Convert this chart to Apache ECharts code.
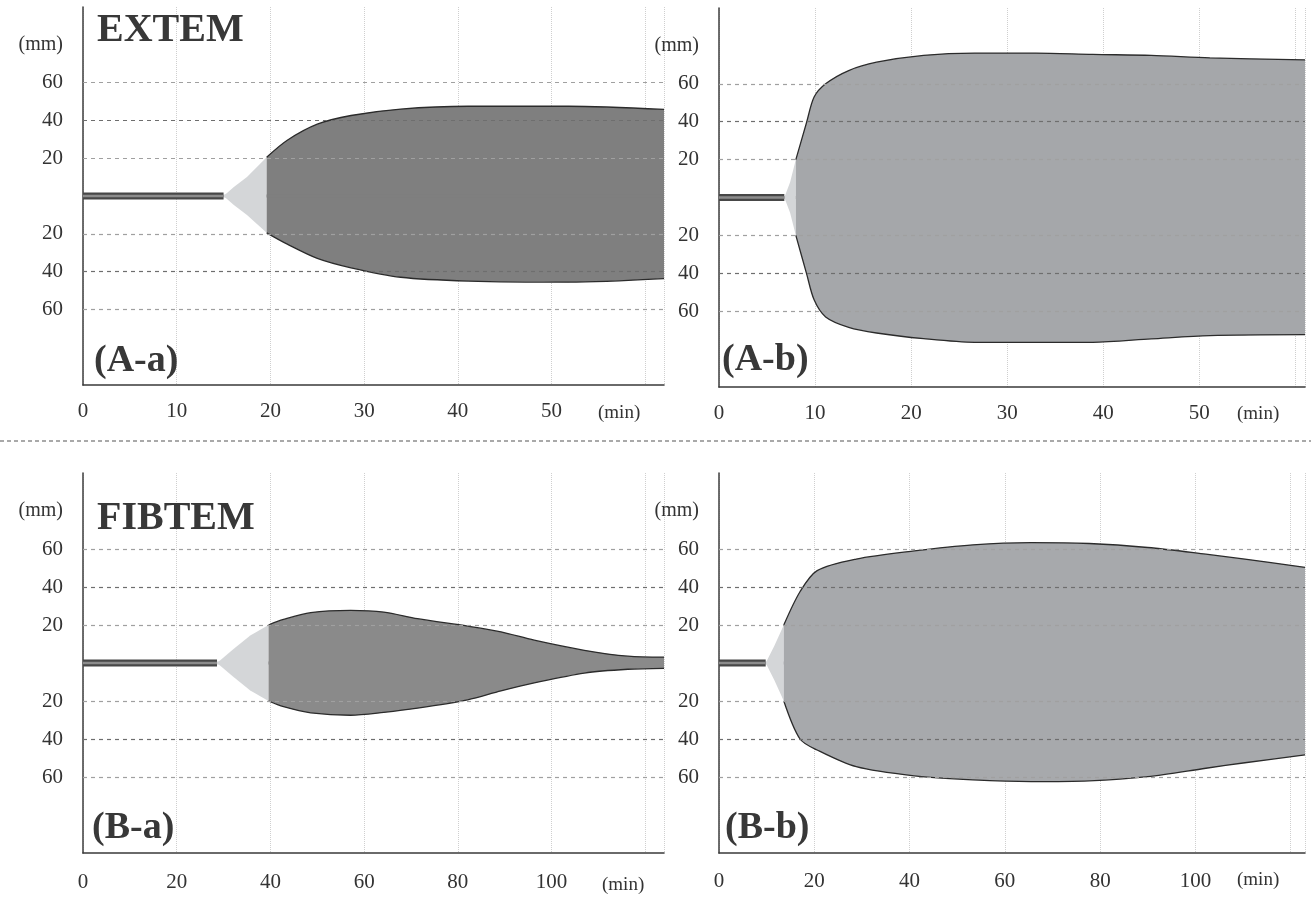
<!DOCTYPE html>
<html><head><meta charset="utf-8">
<script src="https://cdn.jsdelivr.net/npm/echarts/dist/echarts.min.js"></script>
<style>html,body{margin:0;padding:0;background:#fff}#c{width:1311px;height:898px}</style>
</head><body><div id="c"></div>
<script>
// ---- data (time in min, amplitude in mm) ----
const aaTime  = [15.0, 16.1, 17.5, 19.6, 21.8, 25.0, 28.6, 33.9, 41.1, 51.8, 62.0];
const aaUpper = [0, 4.7, 10, 20.5, 29.5, 38, 42.6, 46, 47.5, 47.5, 45.8];
const aaLower = [0, 4.7, 10, 19.5, 25.5, 33, 38, 43, 45, 45.6, 43.7];

const abTime  = [6.8, 7.4, 8.0, 9.1, 9.9, 11.1, 13.5, 16.4, 21.3, 26.6, 33.0, 38.9, 45.0, 51.1, 61.0];
const abUpper = [0, 8, 20, 39.3, 53, 60, 67, 71.4, 75, 76.2, 76.2, 75.5, 75, 73.7, 72.6];
const abLower = [0, 8, 20, 39.9, 54, 63, 68.5, 71.5, 74.5, 76.4, 76.4, 76.4, 74.6, 72.9, 72.4];

const baTime  = [28.6, 32.2, 35.7, 39.6, 42.8, 48.6, 57.1, 64.2, 71.4, 82.1, 89.2, 96.3, 107.0, 116.3, 124.0];
const baUpper = [0, 7.5, 14.5, 20, 22.9, 26.5, 27.7, 26.8, 23.3, 19.4, 16.4, 12, 6.7, 3.6, 3.1];
const baLower = [0, 7.5, 14.5, 20, 23, 26.2, 27.5, 26, 23.8, 19.4, 14.7, 10.5, 5.3, 3.3, 2.8];

const bbTime  = [9.8, 11.6, 13.6, 17.0, 20.6, 28.8, 41.0, 53.3, 65.5, 77.7, 90.0, 102.2, 110.4, 123.0];
const bbUpper = [0, 9, 20, 37.5, 48.6, 54.7, 59, 62.2, 63.4, 62.9, 60.8, 57.3, 54.7, 50.3];
const bbLower = [0, 9, 20, 40, 45.8, 54.6, 59.4, 61.5, 62.4, 62, 59.8, 55.4, 52.5, 48.4];

const titles = ['EXTEM', 'FIBTEM'];
const panelLabels = ['(A-a)', '(A-b)', '(B-a)', '(B-b)'];
const gridYValues = [20, 40, 60];

// ---- layout ----
const panels = [
  {time: aaTime, upper: aaUpper, lower: aaLower, xMax: 62, xInt: 10, labelMax: 50,
   fill: '#7f7f7f', grid: {left: 83, top: 7, width: 581, height: 378}, nameGap: -66, nameTop: 19, lm: 16},
  {time: abTime, upper: abUpper, lower: abLower, xMax: 61, xInt: 10, labelMax: 50,
   fill: '#a5a7aa', grid: {left: 719, top: 8, width: 586, height: 379}, nameGap: -68, nameTop: 18, lm: 16},
  {time: baTime, upper: baUpper, lower: baLower, xMax: 124, xInt: 20, labelMax: 100,
   fill: '#8a8a8a', grid: {left: 83, top: 473, width: 581, height: 380}, nameGap: -62, nameTop: 23, lm: 19},
  {time: bbTime, upper: bbUpper, lower: bbLower, xMax: 123, xInt: 20, labelMax: 100,
   fill: '#a7a9ac', grid: {left: 719, top: 473, width: 586, height: 380}, nameGap: -68, nameTop: 18, lm: 18}
];

const FONT = '"Liberation Serif", "Times New Roman", serif';
const LIGHT = '#d4d6d8';
const grids = [], xAxes = [], yAxes = [], series = [];

panels.forEach((p, i) => {
  grids.push(Object.assign({containLabel: false}, p.grid));
  xAxes.push({
    type: 'value', gridIndex: i, min: 0, max: p.xMax, interval: p.xInt,
    name: '(min)', nameLocation: 'end', nameGap: p.nameGap,
    nameTextStyle: {fontFamily: FONT, fontSize: 19, color: '#333', verticalAlign: 'top', padding: [p.nameTop, 0, 0, 0]},
    axisLine: {show: true, onZero: false, lineStyle: {color: '#3a3a3a', width: 1.6}},
    axisTick: {show: false},
    axisLabel: {fontFamily: FONT, fontSize: 21, color: '#333', margin: p.lm, showMaxLabel: false,
      formatter: v => (v % p.xInt === 0 && v <= p.labelMax) ? String(v) : ''},
    splitLine: {show: true, lineStyle: {color: '#cfcfcf', type: 'dotted', width: 1}}
  });
  yAxes.push({
    type: 'value', gridIndex: i, min: -100, max: 100, interval: 20,
    axisLine: {show: true, onZero: false, lineStyle: {color: '#4a4a4a', width: 1.6}},
    axisTick: {show: false},
    axisLabel: {fontFamily: FONT, fontSize: 21, color: '#333', margin: 20,
      formatter: v => v === 80 ? '{u|(mm)}' : (gridYValues.indexOf(Math.abs(v)) >= 0 ? String(Math.abs(v)) : ''),
      rich: {u: {fontFamily: FONT, fontSize: 20, color: '#333'}}},
    splitLine: {show: false}
  });

  // horizontal dashed grid lines
  series.push({
    type: 'line', xAxisIndex: i, yAxisIndex: i, data: [], z: 1, silent: true,
    markLine: {
      silent: true, symbol: 'none', label: {show: false}, animation: false,
      data: gridYValues.concat(gridYValues.map(v => -v)).map(v => ({
        yAxis: v,
        lineStyle: {type: [4, 4], width: 1.2, color: Math.abs(v) === 40 ? '#6e6e6e' : '#a0a0a0'}
      }))
    }
  });

  const k = p.upper.findIndex(v => v >= 20);
  const up = p.time.map((t, j) => [t, p.upper[j]]);
  const lo = p.time.map((t, j) => [t, -p.lower[j]]);
  const ct = p.time[0];
  const tk = p.time[k];
  const tEnd = p.time[p.time.length - 1];

  // light (clot formation) region
  [up.slice(0, k + 1), lo.slice(0, k + 1)].forEach(d => series.push({
    type: 'line', xAxisIndex: i, yAxisIndex: i, data: d, symbol: 'none', z: 3, silent: true,
    lineStyle: {width: 0, opacity: 0}, areaStyle: {color: LIGHT, opacity: 1}
  }));
  // seam cover for light region
  series.push({
    type: 'line', xAxisIndex: i, yAxisIndex: i, data: [[ct, 0], [tk, 0]], symbol: 'none', z: 3, silent: true,
    lineStyle: {width: 3, color: LIGHT, cap: 'butt'}
  });
  // firm clot region
  [up.slice(k), lo.slice(k)].forEach(d => series.push({
    type: 'line', xAxisIndex: i, yAxisIndex: i, data: d, symbol: 'none', z: 4, silent: true,
    smooth: 0.3,
    lineStyle: {width: 1.3, color: '#2b2b2b'}, areaStyle: {color: p.fill, opacity: 1}
  }));
  // seam cover for firm clot region
  series.push({
    type: 'line', xAxisIndex: i, yAxisIndex: i, data: [[tk, 0], [tEnd, 0]], symbol: 'none', z: 4, silent: true,
    lineStyle: {width: 3, color: p.fill, cap: 'butt'}
  });
  // baseline before clotting time
  series.push({
    type: 'line', xAxisIndex: i, yAxisIndex: i, data: [[0, 0], [ct, 0]], symbol: 'none', z: 5, silent: true,
    lineStyle: {width: 7, color: '#474747', cap: 'butt'}
  });
  series.push({
    type: 'line', xAxisIndex: i, yAxisIndex: i, data: [[0, 0], [ct, 0]], symbol: 'none', z: 6, silent: true,
    lineStyle: {width: 2.5, color: '#8c8c8c', cap: 'butt'}
  });
});

const titleFont = 'bold 40px ' + FONT;
const labelFont = 'bold 38px ' + FONT;
const graphic = [
  {type: 'text', x: 97, y: 31, z: 100, style: {text: titles[0], font: titleFont, fill: '#383838', verticalAlign: 'middle'}},
  {type: 'text', x: 97, y: 519, z: 100, style: {text: titles[1], font: titleFont, fill: '#383838', verticalAlign: 'middle'}},
  {type: 'text', x: 94, y: 361, z: 100, style: {text: panelLabels[0], font: labelFont, fill: '#383838', verticalAlign: 'middle'}},
  {type: 'text', x: 722, y: 360, z: 100, style: {text: panelLabels[1], font: labelFont, fill: '#383838', verticalAlign: 'middle'}},
  {type: 'text', x: 92, y: 828, z: 100, style: {text: panelLabels[2], font: labelFont, fill: '#383838', verticalAlign: 'middle'}},
  {type: 'text', x: 725, y: 828, z: 100, style: {text: panelLabels[3], font: labelFont, fill: '#383838', verticalAlign: 'middle'}},
  {type: 'line', z: 100, shape: {x1: 0, y1: 441, x2: 1311, y2: 441}, style: {stroke: '#555', lineWidth: 1.2, lineDash: [4, 3]}}
];

const chart = echarts.init(document.getElementById('c'), null, {renderer: 'canvas'});
chart.setOption({
  animation: false,
  backgroundColor: '#fff',
  grid: grids, xAxis: xAxes, yAxis: yAxes, series: series, graphic: graphic
});
</script>
</body></html>
